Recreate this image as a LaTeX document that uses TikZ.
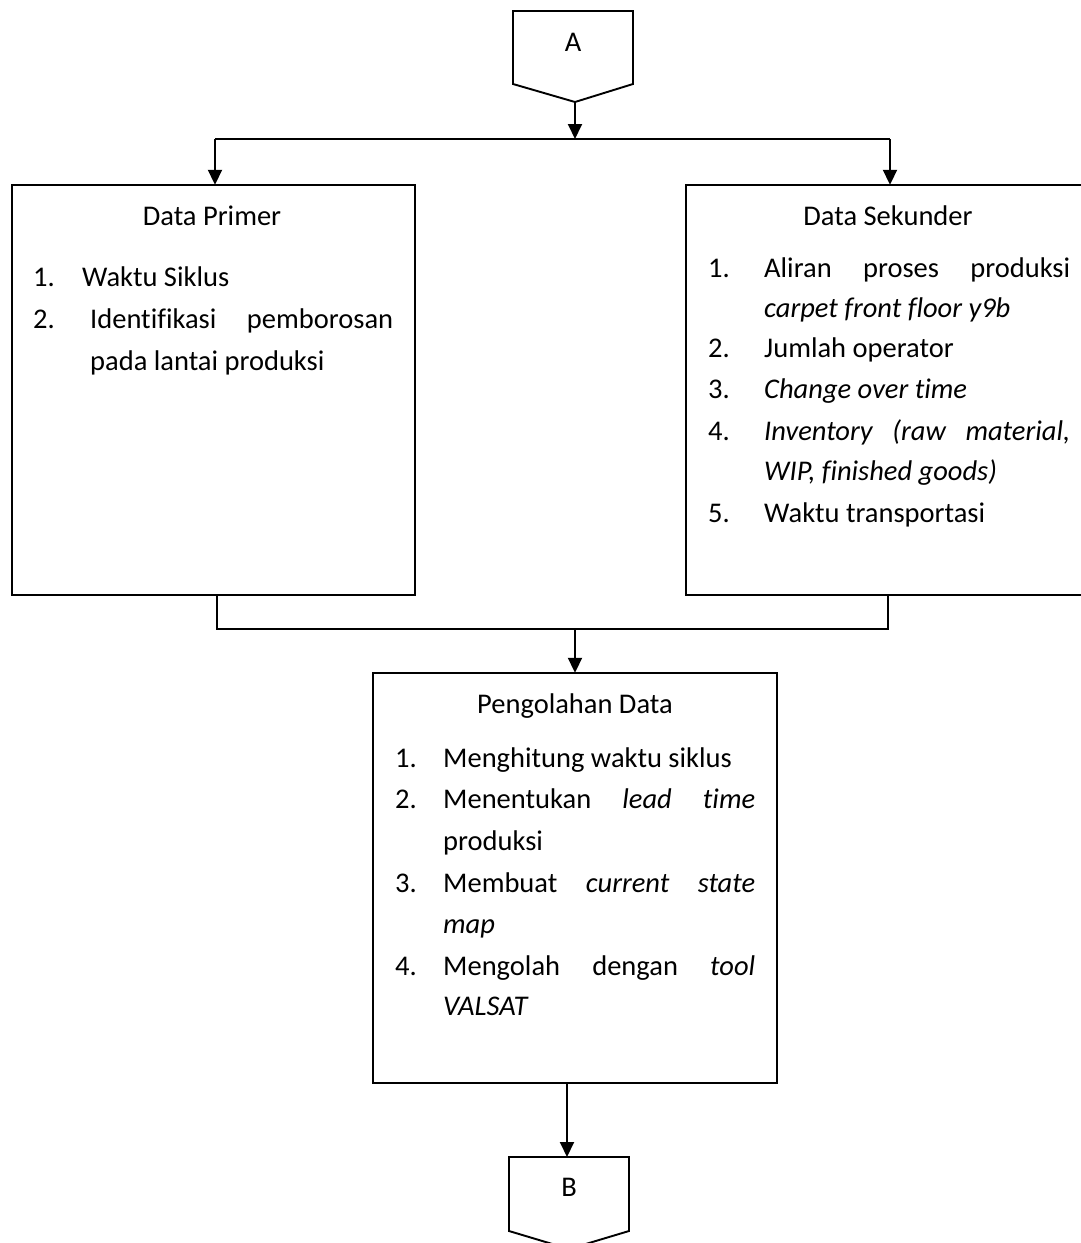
\documentclass[tikz,border=0pt]{standalone}
\usepackage{fontspec}
\setmainfont[Ligatures={NoCommon}]{Carlito}
\usetikzlibrary{arrows.meta}
\tikzset{
  line/.style={line width=1.9pt, black},
  arr/.style={line, -{Triangle[length=15pt,width=14pt]}},
  txt/.style={inner sep=0pt, anchor=base west, font=\fontsize{28.5}{42}\selectfont},
  ttl/.style={inner sep=0pt, anchor=base, font=\fontsize{28.5}{42}\selectfont},
}
\newcommand{\jline}[2]{\hbox to #1pt{#2}}
\begin{document}
\begin{tikzpicture}[x=1pt,y=-1pt]
\useasboundingbox (0,0) rectangle (1080,1243);

% connector A
\draw[line] (513,11) -- (633,11) -- (633,84) -- (575,102) -- (513,84) -- cycle;
\node[ttl] (labA) at (573,51) {A};
\coordinate (Atip) at (575,102);
\coordinate (busT) at (575,139);
\coordinate (busTL) at (215,139);
\coordinate (busTR) at (890,139);

% boxes
\draw[line] (12,185) rectangle (415,595);
\node[inner sep=0pt, minimum width=403pt, minimum height=410pt] (prim) at (213.5,390) {};
\draw[line] (686,185) rectangle (1083,595);
\node[inner sep=0pt, minimum width=397pt, minimum height=410pt] (sek) at (884.5,390) {};
\draw[line] (373,673) rectangle (777,1083);
\node[inner sep=0pt, minimum width=404pt, minimum height=410pt] (olah) at (575,878) {};

% B connector
\draw[line] (509,1157) -- (629,1157) -- (629,1231) -- (569,1249) -- (509,1231) -- cycle;
\node[ttl] (labB) at (569,1196) {B};
\coordinate (Btop) at (567,1157);

% top connectors
\draw[arr] (Atip) -- (busT);
\draw[line] (busTL) -- (busTR);
\draw[arr] (busTL) -- (busTL |- prim.north);
\draw[arr] (busTR) -- (busTR |- sek.north);

% bottom connectors
\coordinate (busBL) at (217,629);
\coordinate (busBR) at (888,629);
\coordinate (busB) at (575,629);
\draw[line] (busBL |- prim.south) -- (busBL) -- (busBR) -- (busBR |- sek.south);
\draw[arr] (busB) -- (busB |- olah.north);
\draw[arr] (567,1083) -- (Btop);

% Data Primer
\node[ttl] (t1) at (212,225) {Data Primer};
\node[txt] (p1n) at (33,286) {1.};
\node[txt] (p1t) at (82,286) {Waktu Siklus};
\node[txt] (p2n) at (33,328) {2.};
\node[txt] (p2t) at (90,328) {\jline{303}{Identifikasi\hfill pemborosan}};
\node[txt] (p2u) at (90,370) {pada lantai produksi};

% Data Sekunder
\node[ttl] (t2) at (888,225) {Data Sekunder};
\node[txt] (s1n) at (708,277) {1.};
\node[txt] (s1t) at (764,277) {\jline{306}{Aliran\hfill proses\hfill produksi}};
\node[txt] (s1u) at (764,317) {\textit{carpet front floor y9b}};
\node[txt] (s2n) at (708,357) {2.};
\node[txt] (s2t) at (764,357) {Jumlah operator};
\node[txt] (s3n) at (708,398) {3.};
\node[txt] (s3t) at (764,398) {\textit{Change over time}};
\node[txt] (s4n) at (708,440) {4.};
\node[txt] (s4t) at (764,440) {\jline{306}{\textit{Inventory}\hfill\textit{(raw}\hfill\textit{material,}}};
\node[txt] (s4u) at (764,480) {\textit{WIP, finished goods)}};
\node[txt] (s5n) at (708,522) {5.};
\node[txt] (s5t) at (764,522) {Waktu transportasi};

% Pengolahan Data
\node[ttl] (t3) at (575,713) {Pengolahan Data};
\node[txt] (o1n) at (395,767) {1.};
\node[txt] (o1t) at (443,767) {Menghitung waktu siklus};
\node[txt] (o2n) at (395,808) {2.};
\node[txt] (o2t) at (443,808) {\jline{312}{Menentukan\hfill\textit{lead}\hfill\textit{time}}};
\node[txt] (o2u) at (443,850) {produksi};
\node[txt] (o3n) at (395,892) {3.};
\node[txt] (o3t) at (443,892) {\jline{312}{Membuat\hfill\textit{current}\hfill\textit{state}}};
\node[txt] (o3u) at (443,933) {\textit{map}};
\node[txt] (o4n) at (395,975) {4.};
\node[txt] (o4t) at (443,975) {\jline{312}{Mengolah\hfill dengan\hfill\textit{tool}}};
\node[txt] (o4u) at (443,1015) {\textit{VALSAT}};
\end{tikzpicture}
\end{document}
